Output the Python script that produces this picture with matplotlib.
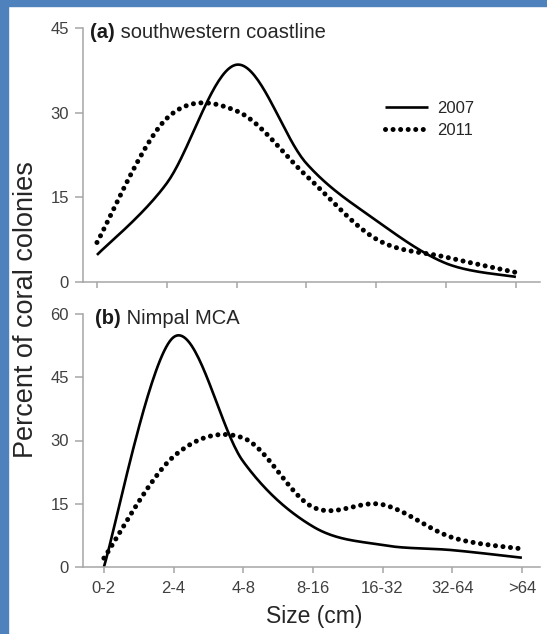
import numpy as np
import matplotlib
matplotlib.use("Agg")
import matplotlib.pyplot as plt
from matplotlib.patches import Rectangle

# ---------------- data ----------------
categories = ["0-2", "2-4", "4-8", "8-16", "16-32", "32-64", ">64"]
series_labels = ["2007", "2011"]
sw_2007 = [4.8, 17.5, 38.5, 21.0, 10.9, 3.3, 0.9]
sw_2011 = [7.0, 29.0, 30.3, 18.8, 7.6, 4.4, 1.7]
nm_2007 = [0.0, 54.5, 25.0, 9.6, 5.2, 4.0, 2.2]
nm_2011 = [2.1, 26.2, 30.6, 14.2, 14.8, 7.0, 4.3]
top_yticks = [0, 15, 30, 45]
bot_yticks = [0, 15, 30, 45, 60]
panel_titles = [("(a)", " southwestern coastline"), ("(b)", " Nimpal MCA")]

plt.rcParams['font.family'] = ['Liberation Sans', 'DejaVu Sans']

W, H = 547, 634
fig = plt.figure(figsize=(W / 100, H / 100), dpi=100)
fig.patch.set_facecolor('white')


def smooth(y, n=40):
    """Excel-style smoothed line (Catmull-Rom Bezier) through the points."""
    y = np.asarray(y, float)
    x = np.arange(len(y), dtype=float)
    P = np.column_stack([x, y])
    ext = np.vstack([P[0], P, P[-1]])
    xs, ys = [], []
    t = np.linspace(0, 1, n)[:, None]
    for i in range(len(P) - 1):
        p0, p3 = P[i], P[i + 1]
        c1 = p0 + (ext[i + 2] - ext[i]) / 6.0
        c2 = p3 - (ext[i + 3] - ext[i + 1]) / 6.0
        B = ((1 - t) ** 3) * p0 + 3 * ((1 - t) ** 2) * t * c1 + 3 * (1 - t) * t ** 2 * c2 + t ** 3 * p3
        xs.append(B[:, 0]); ys.append(B[:, 1])
    return np.concatenate(xs), np.concatenate(ys)


def fx(px):
    return px / W


def fy(py):
    return 1 - py / H


L, R = 83, 540
ax1 = fig.add_axes([fx(L), fy(282), (R - L) / W, (282 - 28) / H])
ax2 = fig.add_axes([fx(L), fy(567), (R - L) / W, (567 - 314) / H])

spine_c = '#a6a6a6'
tick_c = '#404040'
dot_style = dict(color='black', lw=3.6, linestyle=(0, (0.01, 1.5)), dash_capstyle='round')
solid_style = dict(color='black', lw=1.9, solid_capstyle='butt')

for ax, d07, d11, yt, xl, (b, rest), tpos in [
        (ax1, sw_2007, sw_2011, top_yticks, (-0.2, 6.345), panel_titles[0], (90, 33)),
        (ax2, nm_2007, nm_2011, bot_yticks, (-0.3, 6.26), panel_titles[1], (95, 318))]:
    x7, y7 = smooth(d07)
    x1, y1 = smooth(d11)
    ax.plot(x7, y7, label=series_labels[0], **solid_style)
    ax.plot(x1, y1, label=series_labels[1], **dot_style)
    ax.set_xlim(*xl)
    ax.set_ylim(0, yt[-1])
    ax.set_yticks(yt)
    ax.set_xticks(range(len(categories)))
    for s in ['top', 'right']:
        ax.spines[s].set_visible(False)
    for s in ['left', 'bottom']:
        ax.spines[s].set_color(spine_c)
        ax.spines[s].set_linewidth(1.1)
    ax.tick_params(axis='y', direction='out', length=6, width=1.1, color=spine_c,
                   labelsize=12, labelcolor=tick_c, pad=4)
    ax.tick_params(axis='x', direction='out', length=4, width=1.1, color=spine_c,
                   labelsize=12, labelcolor=tick_c, pad=6)
    ax.patch.set_alpha(0)
    t1 = fig.text(fx(tpos[0]), fy(tpos[1]), b, fontsize=14.5, fontweight='bold',
                  color='#1a1a1a', va='center', ha='left')
    fig.canvas.draw()
    bb = t1.get_window_extent()
    fig.text(bb.x1 / W, fy(tpos[1]), rest, fontsize=14.5, color='#262626',
             va='center', ha='left')

ax1.set_xticklabels([])
ax2.set_xticklabels(categories)

leg = ax1.legend(loc='upper left', bbox_to_anchor=(fx(385), fy(101)),
                 bbox_transform=fig.transFigure, frameon=False, fontsize=12,
                 handlelength=2.6, handletextpad=0.55, borderpad=0, borderaxespad=0,
                 labelspacing=0.4)
for t in leg.get_texts():
    t.set_color('#262626')

fig.text(fx(314), fy(616), "Size (cm)", fontsize=16.5, color='#262626', ha='center', va='center')
fig.text(fx(26), fy(310), "Percent of coral colonies", fontsize=19.5, color='#262626',
         ha='center', va='center', rotation=90)

# blue frame on left and top
blue = '#4f81bd'
fig.patches.append(Rectangle((0, 0), 8 / W, 1, transform=fig.transFigure, color=blue, zorder=10))
fig.patches.append(Rectangle((0, 1 - 6 / H), 1, 6 / H, transform=fig.transFigure, color=blue, zorder=10))

fig.savefig("out.png", dpi=100)
